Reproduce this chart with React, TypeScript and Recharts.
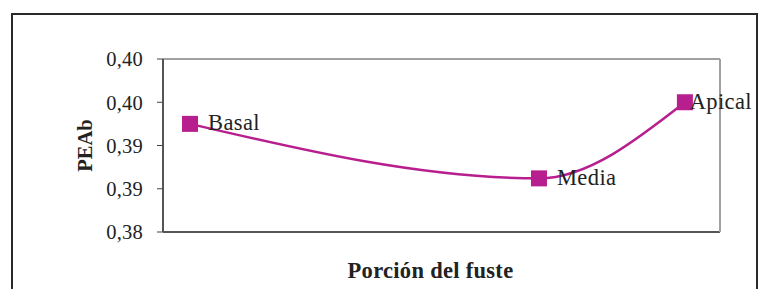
import React from 'react';
import { LineChart, Line, XAxis, YAxis, CartesianGrid, ReferenceLine, LabelList, Label } from 'recharts';

const categories = ['Basal', 'Media', 'Apical'];
const xPositions = [4.85, 67.5, 93.7];
const peabValues = [0.3925, 0.3862, 0.395];
const yTicks = [0.38, 0.385, 0.39, 0.395, 0.4];
const yTickLabels = ['0,38', '0,39', '0,39', '0,40', '0,40'];

const data = categories.map((name, i) => ({ name, x: xPositions[i], y: peabValues[i] }));

const COLOR = '#b81f8e';
const SERIF = '"Liberation Serif", "Times New Roman", serif';
const LABEL_FONT = 22.5;
const LABEL_SPACING = 0.4;

const measure = (text: string) => {
  try {
    const ctx = document.createElement('canvas').getContext('2d');
    if (ctx) {
      ctx.font = `${LABEL_FONT}px ${SERIF}`;
      return ctx.measureText(text).width + LABEL_SPACING * text.length;
    }
  } catch (e) {}
  return text.length * LABEL_FONT * 0.5;
};

const SquareDot = (props: any) => {
  const { cx, cy, index } = props;
  if (cx == null || cy == null) return null;
  return <rect key={`d${index}`} x={cx - 8} y={cy - 8} width={16} height={16} fill={COLOR} />;
};

const PointLabel = (props: any) => {
  const { x, y, width, height, value } = props;
  const cx = x + (width || 0) / 2;
  const cy = y + (height || 0) / 2;
  const text = String(value);
  const w = measure(text);
  let tx = cx + 18;
  const limit = 752;
  if (tx + w > limit) tx = limit - w;
  return (
    <text
      x={tx}
      y={cy + 6.5}
      fontFamily={SERIF}
      fontSize={LABEL_FONT}
      letterSpacing={LABEL_SPACING}
      fill="#222"
    >
      {text}
    </text>
  );
};

export default function App() {
  return (
    <div style={{ position: 'absolute', left: 0, top: 0, width: 759, height: 289, overflow: 'hidden', background: '#fff' }}>
      <div
        style={{
          position: 'absolute',
          left: 11,
          top: 13,
          width: 747,
          height: 300,
          boxSizing: 'border-box',
          border: '2.5px solid #2a2a2a',
        }}
      />
      <div style={{ position: 'absolute', left: 0, top: 0 }}>
        <LineChart width={759} height={289} data={data} margin={{ top: 59, right: 0, left: 0, bottom: 0 }}>
          <CartesianGrid vertical={false} stroke="#3a3a3a" strokeWidth={1} />
          <XAxis
            type="number"
            dataKey="x"
            domain={[0, 100]}
            tick={false}
            tickLine={false}
            height={57}
            axisLine={{ stroke: '#555', strokeWidth: 2 }}
          >
            <Label
              value="Porción del fuste"
              position="insideBottom"
              offset={11}
              dx={-11}
              fontFamily={SERIF}
              fontSize={22.5}
              fontWeight="bold"
              letterSpacing={0.3}
              fill="#222"
            />
          </XAxis>
          <YAxis
            yAxisId="left"
            domain={[0.38, 0.4]}
            ticks={yTicks}
            interval={0}
            width={163}
            tickSize={6}
            tickMargin={14}
            tickFormatter={(v: number, i: number) => yTickLabels[i]}
            tick={{ fontFamily: SERIF, fontSize: 20.5, fill: '#222', letterSpacing: 0.2 }}
            tickLine={{ stroke: '#444' }}
            axisLine={{ stroke: '#555', strokeWidth: 2 }}
          >
            <Label
              value="PEAb"
              angle={-90}
              position="insideLeft"
              offset={85}
              fontFamily={SERIF}
              fontSize={20.5}
              fontWeight="bold"
              fill="#222"
              style={{ textAnchor: 'middle' }}
            />
          </YAxis>
          <YAxis
            yAxisId="right"
            orientation="right"
            domain={[0.38, 0.4]}
            width={39}
            tick={false}
            tickLine={false}
            axisLine={{ stroke: '#a0a0a0', strokeWidth: 2 }}
          />
          <ReferenceLine yAxisId="left" y={0.4} stroke="#a0a0a0" strokeWidth={2} />
          <Line
            yAxisId="left"
            type="monotone"
            dataKey="y"
            stroke={COLOR}
            strokeWidth={2.5}
            dot={<SquareDot />}
            activeDot={false}
            isAnimationActive={false}
          >
            <LabelList dataKey="name" content={<PointLabel />} />
          </Line>
        </LineChart>
      </div>
    </div>
  );
}
